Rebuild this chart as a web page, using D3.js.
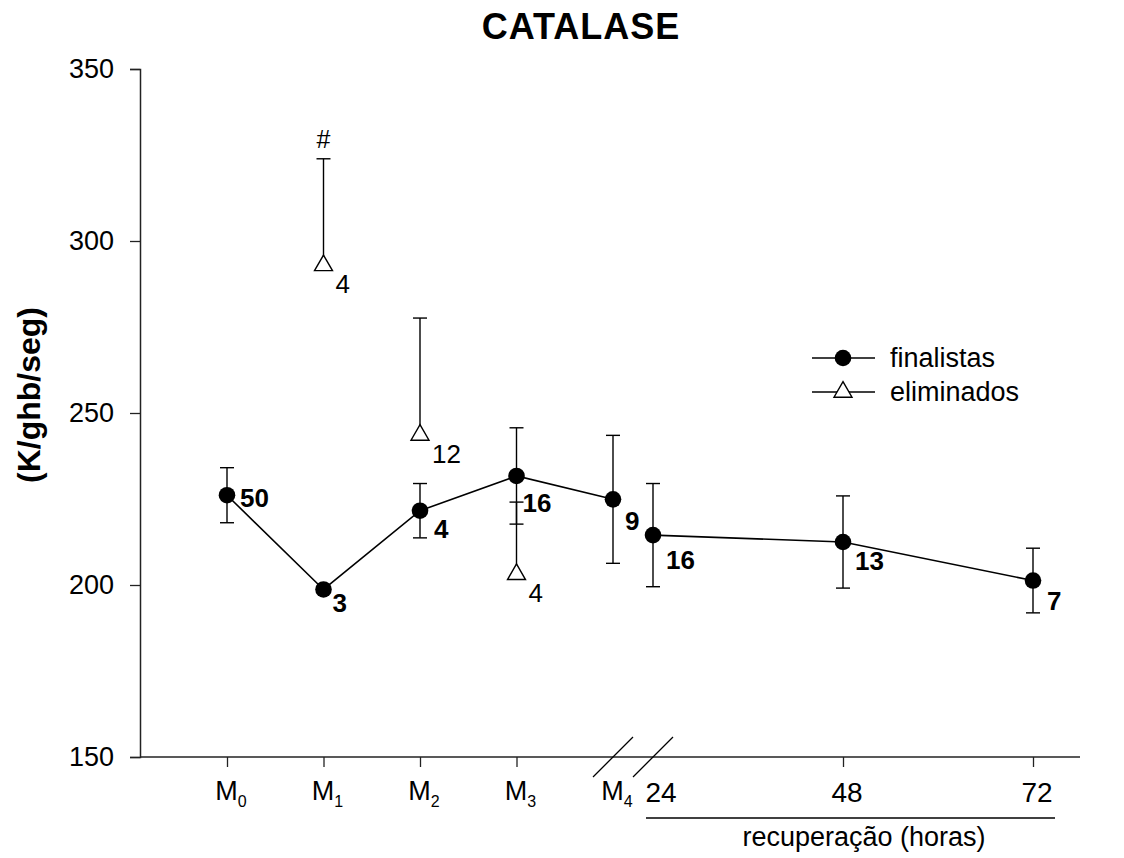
<!DOCTYPE html>
<html>
<head>
<meta charset="utf-8">
<script src="https://cdn.jsdelivr.net/npm/d3@7"></script>
<style>
  body { margin: 0; background: #fff; }
  text { font-family: Arial, "Liberation Sans", Helvetica, sans-serif; fill: #000; }
</style>
</head>
<body>
<svg id="chart" width="1124" height="858"></svg>
<script>
// Sampling moments: exercise phases and recovery hours
const phases = ["M0", "M1", "M2", "M3", "M4"];
const recoveryHours = [24, 48, 72];
const timeKeys = ["M0", "M1", "M2", "M3", "M4", "24", "48", "72"];

// Finalists: mean, standard error and group size at each moment
const finalMean = [226.1, 198.7, 221.6, 231.7, 224.9, 214.5, 212.5, 201.3];
const finalSem  = [8.0, null, 7.9, 14.0, 18.6, 15.0, 13.4, 9.4];
const finalN    = [50, 3, 4, 16, 9, 16, 13, 7];

// Eliminated: only sampled during exercise phases M1–M3
const elimKeys = ["M1", "M2", "M3"];
const elimMean = [292.9, 243.6, 203.1];
const elimSem  = [31, 34, 21];
const elimN    = [4, 12, 4];
const elimMark = ["#", "", ""];

const yTicks = [150, 200, 250, 300, 350];
const phaseTicks = ["M0", "M1", "M2", "M3"];
const hourTicks = [48, 72];

const legendLabels = ["finalistas", "eliminados"];

// Placement nudges for the n labels beside each finalist point (dx, dy)
const finalLabelNudge = [[13, 12], [9, 23], [14, 27], [6, 36], [12, 31], [13, 34], [12, 28], [14, 29]];

const svg = d3.select("#chart");

const y = d3.scaleLinear().domain([150, 350]).range([757, 69]);
const xPhase = d3.scalePoint().domain(phases).range([227, 613]);
const xRec = d3.scaleLinear().domain([24, 72]).range([653, 1033]);
const x = k => phases.includes(k) ? xPhase(k) : xRec(+k);

const axisLeftX = 140, axisRightX = 1080;

// Title
svg.append("text")
  .attr("x", 581).attr("y", 39)
  .attr("text-anchor", "middle")
  .style("font-size", "36px").style("font-weight", "bold")
  .style("letter-spacing", "1px")
  .text("CATALASE");

// Y axis
const yAxis = svg.append("g")
  .attr("transform", `translate(${axisLeftX},0)`)
  .call(d3.axisLeft(y).tickValues(yTicks).tickSize(10).tickPadding(16).tickFormat(d3.format("d")));
yAxis.select(".domain").attr("stroke", "#222").attr("stroke-width", 1.5);
yAxis.selectAll(".tick line").attr("stroke", "#222").attr("stroke-width", 1.3);
yAxis.selectAll(".tick text")
  .style("font-size", "27px")
  .style("font-family", "Arial, 'Liberation Sans', Helvetica, sans-serif");

svg.append("text")
  .attr("transform", "translate(40,395) rotate(-90)")
  .attr("text-anchor", "middle")
  .style("font-size", "32px").style("font-weight", "bold")
  .text("(K/ghb/seg)");

// X axis baseline (continuous across the break)
svg.append("line")
  .attr("x1", axisLeftX).attr("x2", axisRightX)
  .attr("y1", y(150)).attr("y2", y(150))
  .attr("stroke", "#222").attr("stroke-width", 1.5);

const phaseAxis = svg.append("g")
  .attr("transform", `translate(0,${y(150)})`)
  .call(d3.axisBottom(xPhase).tickValues(phaseTicks).tickSize(10).tickFormat(""));
phaseAxis.select(".domain").remove();
phaseAxis.selectAll(".tick line").attr("stroke", "#222").attr("stroke-width", 1.3);

const hourAxis = svg.append("g")
  .attr("transform", `translate(0,${y(150)})`)
  .call(d3.axisBottom(xRec).tickValues(hourTicks).tickSize(10).tickFormat(""));
hourAxis.select(".domain").remove();
hourAxis.selectAll(".tick line").attr("stroke", "#222").attr("stroke-width", 1.3);

// Phase labels with subscripts
const labelBase = y(150) + 43;
phases.forEach(p => {
  const t = svg.append("text")
    .attr("x", xPhase(p) + 4).attr("y", labelBase)
    .attr("text-anchor", "middle")
    .style("font-size", "27px");
  t.append("tspan").text(p[0]);
  t.append("tspan").attr("dy", 7).style("font-size", "16px").text(p.slice(1));
});

// Recovery hour labels
recoveryHours.forEach(h => {
  svg.append("text")
    .attr("x", xRec(h) + (h === 24 ? 8 : 4)).attr("y", labelBase + 2)
    .attr("text-anchor", "middle")
    .style("font-size", "28px")
    .text(h);
});

// Axis break marks at the M4 / 24 h gap
[x("M4"), x("24")].forEach(cx => {
  svg.append("line")
    .attr("x1", cx - 20).attr("y1", y(150) + 20)
    .attr("x2", cx + 20).attr("y2", y(150) - 20)
    .attr("stroke", "#000").attr("stroke-width", 1.3);
});

// Recovery bracket and caption
svg.append("line")
  .attr("x1", xRec(24) - 7).attr("x2", xRec(72) + 22)
  .attr("y1", 818).attr("y2", 818)
  .attr("stroke", "#000").attr("stroke-width", 1.5);
svg.append("text")
  .attr("x", 864).attr("y", 846)
  .attr("text-anchor", "middle")
  .style("font-size", "27px")
  .text("recuperação (horas)");

const capHalf = 7;

// Finalist error bars
const finalData = timeKeys.map((k, i) => ({ k, m: finalMean[i], s: finalSem[i], n: finalN[i], nudge: finalLabelNudge[i] }));
const fe = svg.append("g").attr("stroke", "#000").attr("stroke-width", 1.4);
finalData.filter(d => d.s != null).forEach(d => {
  const cx = x(d.k);
  fe.append("line").attr("x1", cx).attr("x2", cx).attr("y1", y(d.m - d.s)).attr("y2", y(d.m + d.s));
  fe.append("line").attr("x1", cx - capHalf).attr("x2", cx + capHalf).attr("y1", y(d.m + d.s)).attr("y2", y(d.m + d.s));
  fe.append("line").attr("x1", cx - capHalf).attr("x2", cx + capHalf).attr("y1", y(d.m - d.s)).attr("y2", y(d.m - d.s));
});

// Eliminated error bars (upper side only)
const elimData = elimKeys.map((k, i) => ({ k, m: elimMean[i], s: elimSem[i], n: elimN[i], mark: elimMark[i] }));
const ee = svg.append("g").attr("stroke", "#000").attr("stroke-width", 1.4);
elimData.forEach(d => {
  const cx = x(d.k);
  ee.append("line").attr("x1", cx).attr("x2", cx).attr("y1", y(d.m)).attr("y2", y(d.m + d.s));
  ee.append("line").attr("x1", cx - capHalf).attr("x2", cx + capHalf).attr("y1", y(d.m + d.s)).attr("y2", y(d.m + d.s));
});

// Finalist line, broken at the axis gap
const line = d3.line().x(d => x(d.k)).y(d => y(d.m));
const segments = [finalData.filter(d => phases.includes(d.k)), finalData.filter(d => !phases.includes(d.k))];
segments.forEach(seg => {
  svg.append("path").datum(seg)
    .attr("d", line)
    .attr("fill", "none").attr("stroke", "#000").attr("stroke-width", 1.6);
});

// Markers
const r = 8.3;
svg.append("g").selectAll("circle").data(finalData).join("circle")
  .attr("cx", d => x(d.k)).attr("cy", d => y(d.m)).attr("r", r)
  .attr("fill", "#000");

const tri = d3.symbol().type(d3.symbolTriangle).size(140);
svg.append("g").selectAll("path").data(elimData).join("path")
  .attr("transform", d => `translate(${x(d.k)},${y(d.m)})`)
  .attr("d", tri)
  .attr("fill", "#fff").attr("stroke", "#000").attr("stroke-width", 1.4);

// Group sizes
svg.append("g").selectAll("text").data(finalData).join("text")
  .attr("x", d => x(d.k) + d.nudge[0]).attr("y", d => y(d.m) + d.nudge[1])
  .style("font-size", "26px").style("font-weight", "bold")
  .text(d => d.n);

svg.append("g").selectAll("text").data(elimData).join("text")
  .attr("x", d => x(d.k) + 12).attr("y", d => y(d.m) + 28)
  .style("font-size", "26px")
  .text(d => d.n);

// Significance marks above eliminated error bars
svg.append("g").selectAll("text").data(elimData.filter(d => d.mark)).join("text")
  .attr("x", d => x(d.k)).attr("y", d => y(d.m + d.s) - 11)
  .attr("text-anchor", "middle")
  .style("font-size", "25px")
  .text(d => d.mark);

// Legend
const legend = svg.append("g");
legendLabels.forEach((lab, i) => {
  const ly = 358 + i * 34;
  legend.append("line").attr("x1", 812).attr("x2", 875).attr("y1", ly).attr("y2", ly)
    .attr("stroke", "#000").attr("stroke-width", 1.5);
  if (i === 0) {
    legend.append("circle").attr("cx", 843).attr("cy", ly).attr("r", r).attr("fill", "#000");
  } else {
    legend.append("path").attr("transform", `translate(843,${ly})`).attr("d", tri)
      .attr("fill", "#fff").attr("stroke", "#000").attr("stroke-width", 1.4);
  }
  legend.append("text").attr("x", 890).attr("y", ly + 9)
    .style("font-size", "27px").text(lab);
});
</script>
</body>
</html>
